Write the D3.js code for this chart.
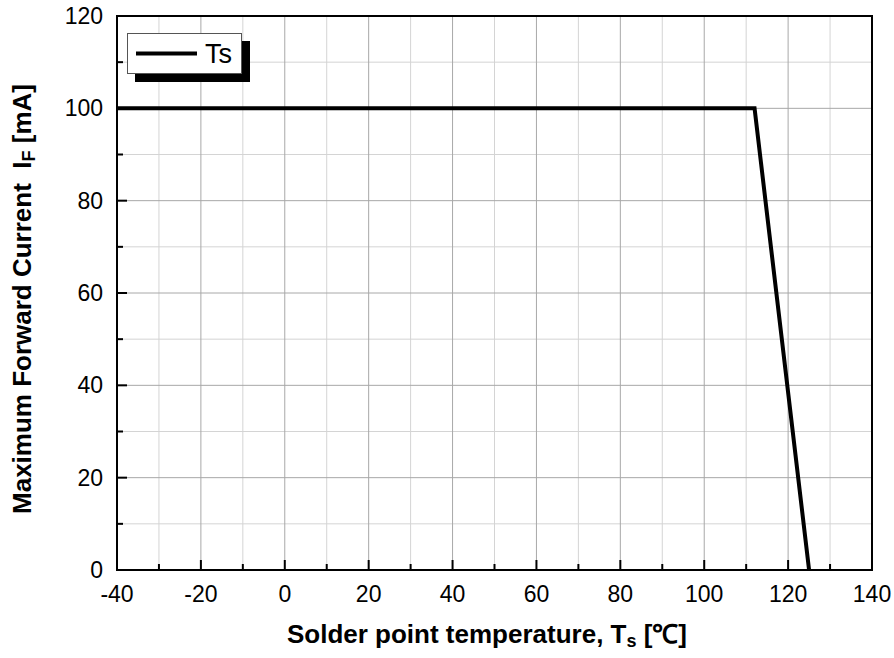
<!DOCTYPE html>
<html><head><meta charset="utf-8">
<script src="https://cdn.jsdelivr.net/npm/d3@7"></script>
<style>body{margin:0;background:#fff;} svg{display:block;font-family:"Liberation Sans",Arial,sans-serif;}</style>
</head><body>
<svg id="c" width="894" height="658"></svg>
<script>
const xTicks = [-40,-20,0,20,40,60,80,100,120,140];
const yTicks = [0,20,40,60,80,100,120];
const seriesName = "Ts";
const tempValues = [-40, 112, 125];
const currentValues = [100, 100, 0];

const svg = d3.select("#c");
const L=117, R=872, T=16, B=570;
const x = d3.scaleLinear().domain([-40,140]).range([L,R]);
const y = d3.scaleLinear().domain([0,120]).range([B,T]);

// grid
const minorX = d3.range(-30,140,20), minorY = d3.range(10,120,20);
const g = svg.append("g");
minorX.forEach(v=>g.append("line").attr("x1",x(v)).attr("x2",x(v)).attr("y1",T).attr("y2",B).attr("stroke","#d4d4d4").attr("stroke-width",1));
minorY.forEach(v=>g.append("line").attr("x1",L).attr("x2",R).attr("y1",y(v)).attr("y2",y(v)).attr("stroke","#d4d4d4").attr("stroke-width",1));
xTicks.slice(1,-1).forEach(v=>g.append("line").attr("x1",x(v)).attr("x2",x(v)).attr("y1",T).attr("y2",B).attr("stroke","#a8a8a8").attr("stroke-width",1));
yTicks.slice(1,-1).forEach(v=>g.append("line").attr("x1",L).attr("x2",R).attr("y1",y(v)).attr("y2",y(v)).attr("stroke","#a8a8a8").attr("stroke-width",1));

// ticks (inward)
xTicks.forEach(v=>g.append("line").attr("x1",x(v)).attr("x2",x(v)).attr("y1",B).attr("y2",B-10).attr("stroke","#000").attr("stroke-width",2));
minorX.forEach(v=>g.append("line").attr("x1",x(v)).attr("x2",x(v)).attr("y1",B).attr("y2",B-6).attr("stroke","#000").attr("stroke-width",2));
yTicks.forEach(v=>g.append("line").attr("x1",L).attr("x2",L+10).attr("y1",y(v)).attr("y2",y(v)).attr("stroke","#000").attr("stroke-width",2));
minorY.forEach(v=>g.append("line").attr("x1",L).attr("x2",L+6).attr("y1",y(v)).attr("y2",y(v)).attr("stroke","#000").attr("stroke-width",2));

// frame
svg.append("rect").attr("x",L).attr("y",T).attr("width",R-L).attr("height",B-T).attr("fill","none").attr("stroke","#000").attr("stroke-width",2);

// tick labels
xTicks.forEach(v=>svg.append("text").attr("x",x(v)).attr("y",B+32).attr("text-anchor","middle").attr("font-size",23).text(v));
yTicks.forEach(v=>svg.append("text").attr("x",L-14).attr("y",y(v)+8).attr("text-anchor","end").attr("font-size",23).text(v));

// data line
const line = d3.line().x((d,i)=>x(tempValues[i])).y((d,i)=>y(currentValues[i]));
svg.append("path").datum(tempValues).attr("d",line).attr("fill","none").attr("stroke","#000").attr("stroke-width",4).attr("stroke-linejoin","miter");

// legend
const lg = svg.append("g");
lg.append("rect").attr("x",135).attr("y",41).attr("width",115).attr("height",41).attr("fill","#000");
lg.append("rect").attr("x",127.5).attr("y",33.5).attr("width",114).attr("height",40).attr("fill","#fff").attr("stroke","#555").attr("stroke-width",1);
lg.append("line").attr("x1",136).attr("x2",197).attr("y1",53.5).attr("y2",53.5).attr("stroke","#000").attr("stroke-width",4);
lg.append("text").attr("x",205).attr("y",63).attr("font-size",27).text(seriesName);

// axis titles
const xt = svg.append("text").attr("x",487).attr("y",643).attr("text-anchor","middle").attr("font-size",26).attr("font-weight","bold");
xt.append("tspan").text("Solder point temperature, T");
xt.append("tspan").attr("font-size",18).attr("dy",4).text("s");
xt.append("tspan").attr("dy",-4).text(" [\u2103]");

const yt = svg.append("text").attr("transform",`translate(31,299) rotate(-90)`).attr("text-anchor","middle").attr("font-size",26).attr("font-weight","bold");
yt.append("tspan").text("Maximum Forward Current\u00a0\u00a0I");
yt.append("tspan").attr("font-size",18).attr("dy",4).text("F");
yt.append("tspan").attr("dy",-4).text(" [mA]");
</script>
</body></html>
